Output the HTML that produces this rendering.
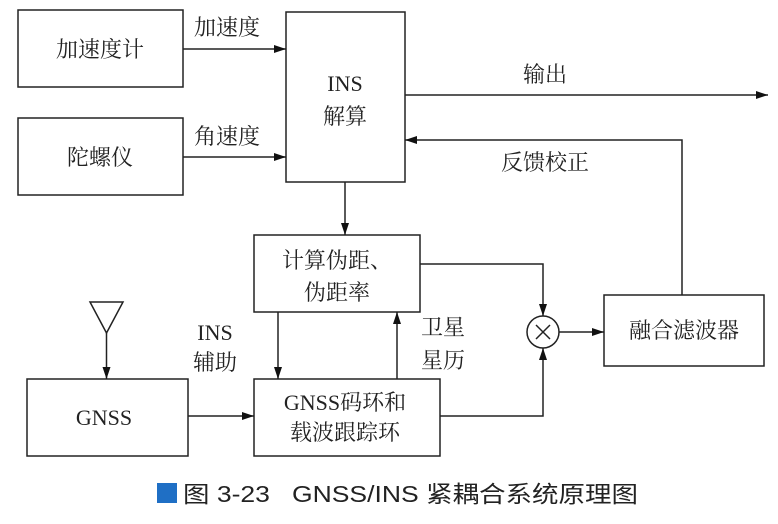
<!DOCTYPE html>
<html><head><meta charset="utf-8"><style>
html,body{margin:0;padding:0;background:#fff;width:778px;height:524px;overflow:hidden}
svg text{font-family:"Liberation Serif","Noto Serif CJK SC","Noto Sans CJK SC",serif;fill:#222}
</style></head><body>
<svg width="778" height="524" viewBox="0 0 778 524" xmlns="http://www.w3.org/2000/svg">
<defs><marker id="a" markerWidth="12" markerHeight="8" refX="12" refY="4" orient="auto" markerUnits="userSpaceOnUse"><path d="M0,0 L12,4 L0,8 z" fill="#111"/></marker></defs>
<g fill="none" stroke="#222" stroke-width="1.5">
<rect x="18" y="10" width="165" height="77"/>
<rect x="18" y="118" width="165" height="77"/>
<rect x="286" y="12" width="119" height="170"/>
<rect x="254" y="235" width="166" height="77"/>
<rect x="27" y="379" width="161" height="77"/>
<rect x="254" y="379" width="186" height="77"/>
<rect x="604" y="295" width="160" height="71"/>
<circle cx="543" cy="332" r="16"/>
<path d="M536,325 L550,339 M550,325 L536,339"/>
<path d="M90,302 L123,302 L106.5,333 Z"/>
<line x1="183" y1="49" x2="286" y2="49" marker-end="url(#a)"/>
<line x1="183" y1="157" x2="286" y2="157" marker-end="url(#a)"/>
<line x1="405" y1="95" x2="768" y2="95" marker-end="url(#a)"/>
<polyline points="682,295 682,140 405,140" marker-end="url(#a)"/>
<line x1="345" y1="182" x2="345" y2="235" marker-end="url(#a)"/>
<polyline points="420,264 543,264 543,316" marker-end="url(#a)"/>
<polyline points="440,416 543,416 543,348" marker-end="url(#a)"/>
<line x1="559" y1="332" x2="604" y2="332" marker-end="url(#a)"/>
<line x1="278" y1="312" x2="278" y2="379" marker-end="url(#a)"/>
<line x1="397" y1="379" x2="397" y2="312" marker-end="url(#a)"/>
<line x1="106.5" y1="333" x2="106.5" y2="379" marker-end="url(#a)"/>
<line x1="188" y1="416" x2="254" y2="416" marker-end="url(#a)"/>
</g>
<g font-size="22" text-anchor="middle">
<text x="100" y="57">加速度计</text>
<text x="100" y="165">陀螺仪</text>
<text x="227" y="35">加速度</text>
<text x="227" y="144">角速度</text>
<text x="345" y="91">INS</text>
<text x="345" y="124">解算</text>
<text x="545" y="82">输出</text>
<text x="545" y="170">反馈校正</text>
<text x="337" y="268">计算伪距、</text>
<text x="337" y="300">伪距率</text>
<text x="215" y="340">INS</text>
<text x="215" y="370">辅助</text>
<text x="443" y="335">卫星</text>
<text x="443" y="368">星历</text>
<text x="684" y="338">融合滤波器</text>
<text x="104" y="425">GNSS</text>
<text x="345" y="410">GNSS码环和</text>
<text x="345" y="440">载波跟踪环</text>
</g>
<rect x="157" y="483" width="20" height="20" fill="#1f6fc5"/>
<text x="183" y="502" font-size="23" textLength="455" lengthAdjust="spacingAndGlyphs" style="font-family:'Liberation Sans','Noto Sans CJK SC',sans-serif" fill="#111">图 3-23 &#160; GNSS/INS 紧耦合系统原理图</text>
</svg>
</body></html>
